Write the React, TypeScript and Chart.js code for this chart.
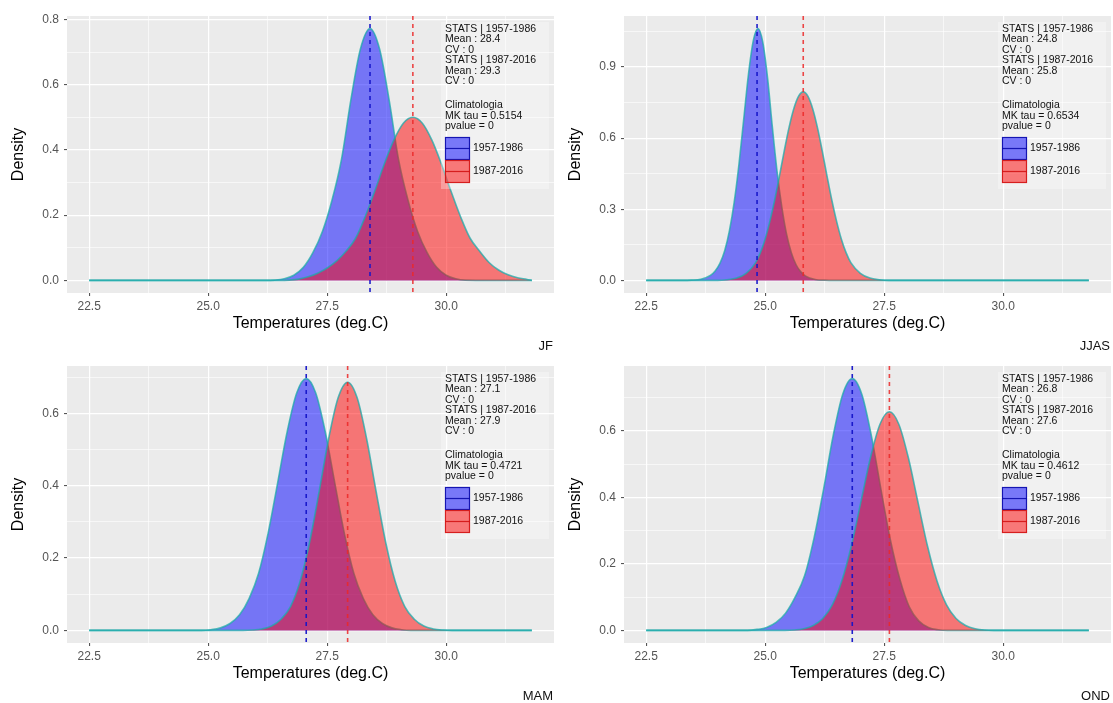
import React, { useEffect, useRef } from 'react';
import { Chart, registerables } from 'chart.js';

Chart.register(...registerables);

const FONT = '"Liberation Sans", Arial, Helvetica, sans-serif';

// ---------- shared axis data ----------
const xMajorTicks = [22.5, 25.0, 27.5, 30.0];
const xMinorTicks = [23.75, 26.25, 28.75, 31.25];
const xDataLimits = [22.5, 31.8];

const periods = ['1957-1986', '1987-2016'];
const seasons = ['JF', 'JJAS', 'MAM', 'OND'];
const seasonMeans = [[28.4, 29.3], [24.83, 25.8], [27.06, 27.93], [26.83, 27.61]];
const meanLabels = [['28.4', '29.3'], ['24.8', '25.8'], ['27.1', '27.9'], ['26.8', '27.6']];
const cvLabels = [['0', '0'], ['0', '0'], ['0', '0'], ['0', '0']];
const mkTau = ['0.5154', '0.6534', '0.4721', '0.4612'];
const pValues = ['0', '0', '0', '0'];

// ---------- y ticks per panel ----------
const jfYMajor = [0, 0.2, 0.4, 0.6, 0.8];
const jfYMinor = [0.1, 0.3, 0.5, 0.7];
const jjasYMajor = [0, 0.3, 0.6, 0.9];
const jjasYMinor = [0.15, 0.45, 0.75, 1.05];
const mamYMajor = [0, 0.2, 0.4, 0.6];
const mamYMinor = [0.1, 0.3, 0.5, 0.7];
const ondYMajor = [0, 0.2, 0.4, 0.6];
const ondYMinor = [0.1, 0.3, 0.5, 0.7];

// ---------- density curves ----------
const jfBlueX = [22.5, 26.2, 26.4, 26.6, 26.8, 27.0, 27.2, 27.4, 27.6, 27.8, 28.0, 28.2, 28.4, 28.6, 28.8, 29.0, 29.2, 29.4, 29.6, 29.8, 30.0, 30.2, 30.4, 31.8];
const jfBlueY = [0, 0, 0.001, 0.005, 0.016, 0.04, 0.085, 0.15, 0.245, 0.37, 0.555, 0.71, 0.772, 0.71, 0.555, 0.37, 0.245, 0.15, 0.085, 0.04, 0.016, 0.005, 0.001, 0];
const jfRedX = [22.5, 26.5, 26.7, 26.9, 27.1, 27.3, 27.5, 27.7, 27.9, 28.1, 28.3, 28.5, 28.7, 28.9, 29.1, 29.3, 29.5, 29.7, 29.9, 30.1, 30.3, 30.5, 30.7, 30.9, 31.1, 31.3, 31.5, 31.7, 31.8];
const jfRedY = [0, 0, 0.001, 0.004, 0.011, 0.022, 0.038, 0.06, 0.09, 0.13, 0.196, 0.274, 0.357, 0.43, 0.482, 0.5, 0.482, 0.43, 0.357, 0.274, 0.196, 0.13, 0.09, 0.055, 0.032, 0.017, 0.008, 0.003, 0];

const jjasBlueX = [22.5, 23.25, 23.45, 23.65, 23.85, 23.95, 24.05, 24.15, 24.25, 24.35, 24.45, 24.55, 24.65, 24.75, 24.85, 24.95, 25.05, 25.15, 25.25, 25.35, 25.45, 25.55, 25.65, 25.75, 25.85, 26.05, 26.25, 26.45, 31.8];
const jjasBlueY = [0, 0, 0.001, 0.005, 0.021, 0.04, 0.072, 0.125, 0.21, 0.33, 0.49, 0.68, 0.87, 1.01, 1.062, 1.005, 0.855, 0.65, 0.46, 0.31, 0.195, 0.117, 0.066, 0.036, 0.018, 0.004, 0.001, 0, 0];
const jjasRedX = [22.5, 24.0, 24.2, 24.4, 24.6, 24.8, 24.9, 25.0, 25.1, 25.2, 25.3, 25.4, 25.5, 25.6, 25.7, 25.8, 25.9, 26.0, 26.1, 26.2, 26.3, 26.4, 26.5, 26.6, 26.7, 26.8, 27.0, 27.2, 27.4, 27.6, 31.8];
const jjasRedY = [0, 0, 0.003, 0.01, 0.03, 0.075, 0.117, 0.175, 0.25, 0.339, 0.44, 0.545, 0.643, 0.723, 0.776, 0.795, 0.776, 0.723, 0.643, 0.545, 0.44, 0.339, 0.25, 0.175, 0.117, 0.075, 0.03, 0.01, 0.003, 0, 0];

const mamBlueX = [22.5, 24.86, 25.06, 25.26, 25.46, 25.66, 25.86, 26.06, 26.26, 26.46, 26.66, 26.86, 27.06, 27.26, 27.46, 27.66, 27.86, 28.06, 28.26, 28.46, 28.66, 28.86, 29.06, 29.26, 31.8];
const mamBlueY = [0, 0, 0.002, 0.007, 0.019, 0.043, 0.088, 0.158, 0.269, 0.408, 0.549, 0.656, 0.696, 0.656, 0.549, 0.408, 0.269, 0.158, 0.088, 0.043, 0.019, 0.007, 0.002, 0, 0];
const mamRedX = [22.5, 25.73, 25.93, 26.13, 26.33, 26.53, 26.73, 26.93, 27.13, 27.33, 27.53, 27.73, 27.93, 28.13, 28.33, 28.53, 28.73, 28.93, 29.13, 29.33, 29.53, 29.73, 29.93, 30.13, 31.8];
const mamRedY = [0, 0, 0.001, 0.004, 0.012, 0.031, 0.066, 0.135, 0.243, 0.383, 0.529, 0.643, 0.686, 0.643, 0.529, 0.383, 0.243, 0.135, 0.066, 0.031, 0.012, 0.004, 0.001, 0, 0];

const ondBlueX = [22.5, 24.63, 24.83, 25.03, 25.23, 25.43, 25.63, 25.83, 26.03, 26.23, 26.43, 26.63, 26.83, 27.03, 27.23, 27.43, 27.63, 27.83, 28.03, 28.23, 28.43, 28.63, 28.83, 31.8];
const ondBlueY = [0, 0, 0.003, 0.009, 0.024, 0.052, 0.1, 0.165, 0.28, 0.427, 0.587, 0.711, 0.758, 0.711, 0.587, 0.427, 0.273, 0.154, 0.07, 0.028, 0.009, 0.002, 0, 0];
const ondRedX = [22.5, 25.41, 25.61, 25.81, 26.01, 26.21, 26.41, 26.61, 26.81, 27.01, 27.21, 27.41, 27.61, 27.81, 28.01, 28.21, 28.41, 28.61, 28.81, 29.01, 29.21, 29.41, 29.61, 29.81, 31.8];
const ondRedY = [0, 0, 0.001, 0.005, 0.015, 0.036, 0.077, 0.149, 0.254, 0.386, 0.519, 0.62, 0.658, 0.62, 0.519, 0.386, 0.254, 0.149, 0.077, 0.036, 0.015, 0.005, 0.001, 0, 0];

type PanelData = {
  idx: number;
  blueX: number[]; blueY: number[];
  redX: number[]; redY: number[];
  yMajor: number[]; yMinor: number[];
};

const panels: PanelData[] = [
  { idx: 0, blueX: jfBlueX, blueY: jfBlueY, redX: jfRedX, redY: jfRedY, yMajor: jfYMajor, yMinor: jfYMinor },
  { idx: 1, blueX: jjasBlueX, blueY: jjasBlueY, redX: jjasRedX, redY: jjasRedY, yMajor: jjasYMajor, yMinor: jjasYMinor },
  { idx: 2, blueX: mamBlueX, blueY: mamBlueY, redX: mamRedX, redY: mamRedY, yMajor: mamYMajor, yMinor: mamYMinor },
  { idx: 3, blueX: ondBlueX, blueY: ondBlueY, redX: ondRedX, redY: ondRedY, yMajor: ondYMajor, yMinor: ondYMinor },
];

const PANEL_W = 556;
const PLOT_TOP = 16;
const PLOT_BOTTOM = 293;
const PLOT_LEFT = 67;
const PLOT_RIGHT = 554;

const isIn = (arr: number[], v: number) => arr.some((a) => Math.abs(a - v) < 1e-9);

function Panel({ p, left, top, height }: { p: PanelData; left: number; top: number; height: number }) {
  const ref = useRef<HTMLCanvasElement>(null);

  useEffect(() => {
    const canvas = ref.current;
    if (!canvas) return;
    const H = height;
    const ymax = Math.max(...p.blueY, ...p.redY);
    const span = xDataLimits[1] - xDataLimits[0];
    const means = seasonMeans[p.idx];

    const gridOpts = (majors: number[]) => ({
      color: '#ffffff',
      lineWidth: (ctx: any) => (ctx.tick && isIn(majors, ctx.tick.value) ? 1.2 : 0.6),
      drawTicks: true,
      tickLength: 3,
      tickWidth: 1,
      tickColor: (ctx: any) => (ctx.tick && isIn(majors, ctx.tick.value) ? '#444444' : 'rgba(0,0,0,0)'),
    });

    const decor = {
      id: 'decor' + p.idx,
      beforeDraw(chart: any) {
        const { ctx, chartArea } = chart;
        ctx.save();
        ctx.fillStyle = '#EBEBEB';
        ctx.fillRect(chartArea.left, chartArea.top, chartArea.right - chartArea.left, chartArea.bottom - chartArea.top);
        ctx.restore();
      },
      afterDatasetsDraw(chart: any) {
        const { ctx, chartArea, scales } = chart;
        const colors = ['rgba(20,20,200,0.95)', 'rgba(235,40,40,0.85)'];
        ctx.save();
        ctx.lineWidth = 1.6;
        ctx.setLineDash([4, 4]);
        means.forEach((m, i) => {
          const px = scales.x.getPixelForValue(m);
          ctx.strokeStyle = colors[i];
          ctx.beginPath();
          ctx.moveTo(px, chartArea.top);
          ctx.lineTo(px, chartArea.bottom);
          ctx.stroke();
        });
        ctx.restore();
      },
      afterDraw(chart: any) {
        const { ctx, chartArea } = chart;
        ctx.save();
        // legend background
        ctx.fillStyle = 'rgba(255,255,255,0.3)';
        ctx.fillRect(441, 22, 108, 167);
        // legend text
        ctx.fillStyle = '#111111';
        ctx.font = `10.5px ${FONT}`;
        ctx.textBaseline = 'middle';
        ctx.textAlign = 'left';
        const statLines = [
          `STATS | ${periods[0]}`,
          `Mean : ${meanLabels[p.idx][0]}`,
          `CV : ${cvLabels[p.idx][0]}`,
          `STATS | ${periods[1]}`,
          `Mean : ${meanLabels[p.idx][1]}`,
          `CV : ${cvLabels[p.idx][1]}`,
        ];
        statLines.forEach((t, i) => ctx.fillText(t, 445, 29 + i * 10.5));
        const climLines = ['Climatologia', `MK tau = ${mkTau[p.idx]}`, `pvalue = ${pValues[p.idx]}`];
        climLines.forEach((t, i) => ctx.fillText(t, 445, 105 + i * 10.7));
        // keys
        const keyFill = ['rgba(0,0,255,0.5)', 'rgba(255,0,0,0.5)'];
        const keyLine = ['rgba(10,10,170,0.9)', 'rgba(210,20,20,0.9)'];
        [0, 1].forEach((k) => {
          const ky = 137 + k * 23;
          ctx.fillStyle = keyFill[k];
          ctx.fillRect(445, ky, 25, 23);
          ctx.strokeStyle = keyLine[k];
          ctx.lineWidth = 1.2;
          ctx.strokeRect(445.5, ky + 0.5, 24, 22);
          ctx.beginPath();
          ctx.moveTo(445, ky + 11.5);
          ctx.lineTo(470, ky + 11.5);
          ctx.stroke();
          ctx.fillStyle = '#111111';
          ctx.fillText(periods[k], 473, ky + 11.5);
        });
        // axis titles
        ctx.fillStyle = '#000000';
        ctx.font = `16px ${FONT}`;
        ctx.textAlign = 'center';
        ctx.fillText('Temperatures (deg.C)', (chartArea.left + chartArea.right) / 2, 324);
        ctx.save();
        ctx.translate(19, (chartArea.top + chartArea.bottom) / 2);
        ctx.rotate(-Math.PI / 2);
        ctx.fillText('Density', 0, 0);
        ctx.restore();
        // caption
        ctx.font = `13px ${FONT}`;
        ctx.textAlign = 'right';
        ctx.fillStyle = '#111111';
        ctx.fillText(seasons[p.idx], 553, 346);
        ctx.restore();
      },
    };

    const chart = new Chart(canvas, {
      type: 'line',
      data: {
        datasets: [
          {
            label: periods[1],
            data: p.redX.map((x, i) => ({ x, y: p.redY[i] })),
            fill: 'origin',
            backgroundColor: 'rgba(255,0,0,0.5)',
            borderColor: 'rgba(30,170,170,0.75)',
            borderWidth: 1.6,
            pointRadius: 0,
            cubicInterpolationMode: 'monotone',
            order: 1,
          },
          {
            label: periods[0],
            data: p.blueX.map((x, i) => ({ x, y: p.blueY[i] })),
            fill: 'origin',
            backgroundColor: 'rgba(0,0,255,0.5)',
            borderColor: 'rgba(30,170,170,0.75)',
            borderWidth: 1.6,
            pointRadius: 0,
            cubicInterpolationMode: 'monotone',
            order: 2,
          },
        ],
      },
      options: {
        animation: false,
        responsive: false,
        devicePixelRatio: 1,
        layout: { padding: { top: PLOT_TOP, right: PANEL_W - PLOT_RIGHT, left: 0, bottom: 0 } },
        plugins: { legend: { display: false }, tooltip: { enabled: false } },
        scales: {
          x: {
            type: 'linear',
            min: xDataLimits[0] - 0.05 * span,
            max: xDataLimits[1] + 0.05 * span,
            afterBuildTicks: (s: any) => {
              s.ticks = [...xMajorTicks, ...xMinorTicks].sort((a, b) => a - b).map((v) => ({ value: v }));
            },
            afterFit: (s: any) => {
              s.height = H - PLOT_BOTTOM;
            },
            grid: gridOpts(xMajorTicks) as any,
            border: { display: false },
            ticks: {
              autoSkip: false,
              maxRotation: 0,
              minRotation: 0,
              padding: 3,
              color: '#555555',
              font: { family: FONT, size: 12 },
              callback: (v: any) => (isIn(xMajorTicks, Number(v)) ? Number(v).toFixed(1) : ''),
            },
          },
          y: {
            type: 'linear',
            min: -0.05 * ymax,
            max: 1.05 * ymax,
            afterBuildTicks: (s: any) => {
              s.ticks = [...p.yMajor, ...p.yMinor].sort((a, b) => a - b).map((v) => ({ value: v }));
            },
            afterFit: (s: any) => {
              s.width = PLOT_LEFT;
            },
            grid: gridOpts(p.yMajor) as any,
            border: { display: false },
            ticks: {
              autoSkip: false,
              padding: 5,
              color: '#555555',
              font: { family: FONT, size: 12 },
              callback: (v: any) => (isIn(p.yMajor, Number(v)) ? Number(v).toFixed(1) : ''),
            },
          },
        },
      } as any,
      plugins: [decor],
    });
    return () => chart.destroy();
  }, []);

  return (
    <canvas
      ref={ref}
      width={PANEL_W}
      height={height}
      style={{ position: 'absolute', left, top, width: PANEL_W, height, display: 'block' }}
    />
  );
}

export default function App() {
  useEffect(() => {
    document.body.style.margin = '0';
  }, []);
  return (
    <div style={{ position: 'absolute', left: 0, top: 0, width: 1113, height: 703, background: '#ffffff' }}>
      <Panel p={panels[0]} left={0} top={0} height={350} />
      <Panel p={panels[1]} left={557} top={0} height={350} />
      <Panel p={panels[2]} left={0} top={350} height={353} />
      <Panel p={panels[3]} left={557} top={350} height={353} />
    </div>
  );
}
